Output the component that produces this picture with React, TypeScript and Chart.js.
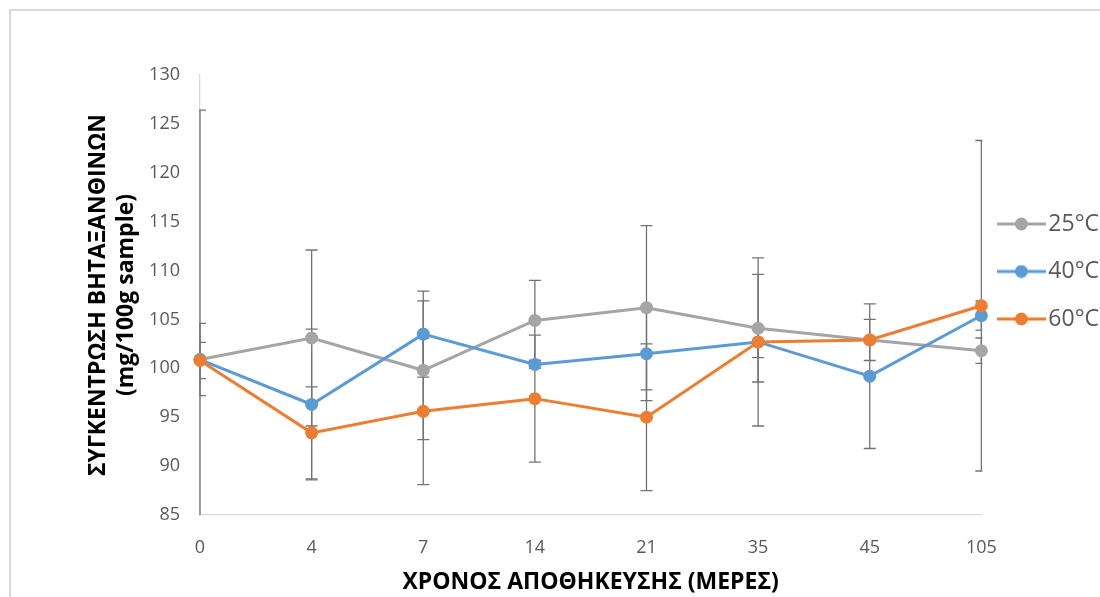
import { useEffect, useRef } from 'react';
import { Chart, registerables } from 'chart.js';

Chart.register(...registerables);

const categories = ['0', '4', '7', '14', '21', '35', '45', '105'];
const seriesLabels = ['25°C', '40°C', '60°C'];
const seriesColors = ['#A5A5A5', '#5B9BD5', '#ED7D31'];

const values25 = [100.9, 103.1, 99.8, 104.9, 106.2, 104.1, 102.9, 101.8];
const errors25 = [25.5, 9.0, 7.1, 4.1, 8.4, 5.5, 2.1, 1.3];

const values40 = [100.9, 96.3, 103.5, 100.4, 101.5, 102.7, 99.2, 105.4];
const errors40 = [3.7, 7.7, 4.4, 0.4, 4.8, 1.6, 7.4, 1.5];

const values60 = [100.8, 93.4, 95.6, 96.9, 95.0, 102.7, 102.9, 106.4];
const errors60 = [1.85, 4.7, 7.5, 6.5, 7.5, 8.6, 0.3, 16.9];

const yMin = 85;
const yMax = 130;
const yStep = 5;

const xTitle = 'ΧΡΟΝΟΣ ΑΠΟΘΗΚΕΥΣΗΣ (ΜΕΡΕΣ)';
const yTitle = ['ΣΥΓΚΕΝΤΡΩΣΗ ΒΗΤΑΞΑΝΘΙΝΩΝ', '(mg/100g sample)'];

const allValues = [values25, values40, values60];
const allErrors = [errors25, errors40, errors60];

function makeLegendIcon(color: string) {
  const c = document.createElement('canvas');
  c.width = 49;
  c.height = 14;
  const g = c.getContext('2d')!;
  g.strokeStyle = color;
  g.lineWidth = 3;
  g.beginPath();
  g.moveTo(0, 7);
  g.lineTo(49, 7);
  g.stroke();
  g.fillStyle = color;
  g.beginPath();
  g.arc(24.5, 7, 6.5, 0, Math.PI * 2);
  g.fill();
  return c;
}

const errorBarPlugin = {
  id: 'errorBars',
  beforeDatasetsDraw(chart: any) {
    const { ctx, chartArea, scales } = chart;
    const x = scales.x;
    const y = scales.y;
    ctx.save();
    ctx.beginPath();
    ctx.rect(chartArea.left - 1, chartArea.top, chartArea.right - chartArea.left + 2, chartArea.bottom - chartArea.top);
    ctx.clip();
    ctx.strokeStyle = '#737373';
    ctx.lineWidth = 1.3;
    allValues.forEach((vals, di) => {
      const errs = allErrors[di];
      vals.forEach((v, i) => {
        const px = x.getPixelForValue(i);
        const pt = y.getPixelForValue(v + errs[i]);
        const pb = y.getPixelForValue(v - errs[i]);
        ctx.beginPath();
        ctx.moveTo(px, pt);
        ctx.lineTo(px, pb);
        ctx.moveTo(px - 6, pt);
        ctx.lineTo(px + 6, pt);
        ctx.moveTo(px - 6, pb);
        ctx.lineTo(px + 6, pb);
        ctx.stroke();
      });
    });
    ctx.restore();
  },
};

export default function App() {
  const ref = useRef<HTMLCanvasElement | null>(null);

  useEffect(() => {
    if (!ref.current) return;
    Chart.defaults.font.family = 'Open Sans';
    const icons = seriesColors.map((c) => makeLegendIcon(c));
    const chart = new Chart(ref.current, {
      type: 'line',
      data: {
        labels: categories,
        datasets: allValues.map((vals, i) => ({
          label: seriesLabels[i],
          data: vals,
          borderColor: seriesColors[i],
          backgroundColor: seriesColors[i],
          pointBackgroundColor: seriesColors[i],
          pointBorderColor: seriesColors[i],
          pointBorderWidth: 0,
          borderWidth: 3,
          pointRadius: 6.5,
          pointHoverRadius: 6.5,
          tension: 0,
          clip: false as any,
          order: 3 - i,
        })),
      },
      options: {
        responsive: false,
        animation: false,
        devicePixelRatio: 1,
        layout: { padding: { left: 84, top: 75, right: 11, bottom: 0 } },
        plugins: {
          tooltip: { enabled: false },
          legend: {
            position: 'right',
            align: 'start',
            fullSize: false,
            title: { display: true, text: '', font: { size: 12, lineHeight: 1 }, padding: { top: 101, bottom: 0 } },
            labels: {
              usePointStyle: true,
              pointStyleWidth: 31,
              boxHeight: 23,
              padding: 24.5,
              color: '#595959',
              font: { family: 'Open Sans', size: 23 },
              generateLabels: (ch: any) =>
                ch.data.datasets.map((ds: any, i: number) => ({
                  text: ds.label,
                  pointStyle: icons[i],
                  fillStyle: seriesColors[i],
                  strokeStyle: seriesColors[i],
                  lineWidth: 0,
                  hidden: false,
                  datasetIndex: i,
                  fontColor: '#595959',
                })),
            },
          },
        },
        scales: {
          x: {
            type: 'category',
            offset: false,
            grid: { display: false, drawTicks: false },
            border: { display: true, color: '#d9d9d9', width: 1.3 },
            ticks: {
              color: '#595959',
              font: { family: 'Open Sans', size: 18 },
              padding: 22,
              maxRotation: 0,
              autoSkip: false,
            },
            title: {
              display: true,
              text: xTitle,
              color: '#000000',
              font: { family: 'Open Sans', size: 23, weight: 'bold' },
              padding: { top: 0, bottom: 1 },
            },
            afterFit: (s: any) => {
              s.height = 82;
            },
          },
          y: {
            min: yMin,
            max: yMax,
            grid: { display: false, drawTicks: false },
            border: { display: true, color: '#d9d9d9', width: 1.3 },
            ticks: {
              stepSize: yStep,
              color: '#595959',
              font: { family: 'Open Sans', size: 18 },
              padding: 20,
            },
            title: {
              display: true,
              text: yTitle,
              color: '#000000',
              font: { family: 'Open Sans', size: 23, weight: 'bold', lineHeight: '28px' as any },
              padding: { top: 0, bottom: 0 },
            },
            afterFit: (s: any) => {
              s.width = 116;
            },
          },
        },
      },
      plugins: [errorBarPlugin],
    } as any);
    return () => chart.destroy();
  }, []);

  return (
    <div style={{ position: 'fixed', left: 0, top: 0, width: 1100, height: 597, overflow: 'hidden', background: '#ffffff' }}>
      <div
        style={{
          position: 'absolute',
          left: 9,
          top: 9,
          width: 1200,
          height: 700,
          borderLeft: '2px solid #d9d9d9',
          borderTop: '2px solid #d9d9d9',
          boxSizing: 'border-box',
        }}
      />
      <canvas ref={ref} width={1120} height={597} style={{ position: 'absolute', left: 0, top: 0, width: 1120, height: 597 }} />
    </div>
  );
}
